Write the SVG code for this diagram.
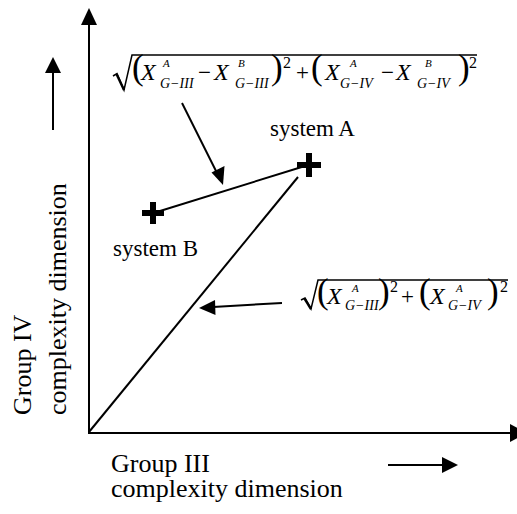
<svg xmlns="http://www.w3.org/2000/svg" width="517" height="514" viewBox="0 0 517 514">
<defs>
<style>
.ln{stroke:#000;stroke-width:2;fill:none}
.cr{stroke:#000;stroke-width:6;fill:none}
.rad{stroke:#000;stroke-width:1.5;fill:none;stroke-linejoin:miter}
.lbl{font-family:"Liberation Serif","Times New Roman",serif;fill:#000}
.m{font-family:"Liberation Serif","Times New Roman",serif;fill:#000;font-size:23px}
.mi{font-family:"Liberation Serif","Times New Roman",serif;fill:#000;font-size:24px;font-style:italic}
.sp{font-family:"Liberation Serif","Times New Roman",serif;fill:#000;font-size:11px;font-style:italic}
.sb{font-family:"Liberation Serif","Times New Roman",serif;fill:#000;font-size:14px;font-style:italic}
.pr{font-family:"Liberation Serif","Times New Roman",serif;fill:#000;font-size:35px}
.ex{font-family:"Liberation Serif","Times New Roman",serif;fill:#000;font-size:16px}
</style>
</defs>
<rect width="517" height="514" fill="#fff"/>

<g id="connectors">
  <line class="ln" x1="89" y1="433" x2="89" y2="24"/>
  <path d="M89,8 L97,25 L81,25 Z" fill="#000"/>
  <line class="ln" x1="88" y1="433" x2="511" y2="433"/>
  <path d="M527,433 L510,424 L510,442 Z" fill="#000"/>
  <line class="ln" x1="53" y1="130" x2="53" y2="72"/>
  <path d="M53,57 L61,73 L45,73 Z" fill="#000"/>
  <line class="ln" x1="388" y1="465" x2="443" y2="465"/>
  <path d="M458,465 L442,457 L442,473 Z" fill="#000"/>
  <line class="ln" x1="160" y1="211" x2="305" y2="166"/>
  <line class="ln" x1="89" y1="432" x2="298" y2="177"/>
  <line class="ln" x1="182" y1="103" x2="217" y2="173"/>
  <path d="M223,185 L211.5,172.5 L224.5,166 Z" fill="#000"/>
  <line class="ln" x1="282" y1="303" x2="213" y2="307"/>
  <path d="M199,308 L215,300 L215.5,315 Z" fill="#000"/>
</g>

<g id="systemA">
  <path class="cr" d="M297,165 H321 M309,153 V177"/>
  <text class="lbl" x="270" y="136" font-size="23">system A</text>
</g>

<g id="systemB">
  <path class="cr" d="M142,213 H164 M153,202 V224"/>
  <text class="lbl" x="113" y="256" font-size="23">system B</text>
</g>

<g id="formulaAB">
  <path class="rad" d="M113,76 L117,73.5 L124,90 L132,55 L477,55"/>
  <path d="M116.5,74 L124,90" stroke="#000" stroke-width="2.4" fill="none"/>
  <text class="pr" x="132" y="79">(</text>
  <text class="mi" x="141" y="80">X</text>
  <text class="sp" x="163" y="67">A</text>
  <text class="sb" x="160" y="88">G−III</text>
  <text class="m" x="198" y="80">−</text>
  <text class="mi" x="214" y="80">X</text>
  <text class="sp" x="238" y="67">B</text>
  <text class="sb" x="235" y="88">G−III</text>
  <text class="pr" x="271" y="79">)</text>
  <text class="ex" x="283" y="68">2</text>
  <text class="m" x="296" y="80">+</text>
  <text class="pr" x="311" y="79">(</text>
  <text class="mi" x="325" y="80">X</text>
  <text class="sp" x="350" y="67">A</text>
  <text class="sb" x="340" y="88">G−IV</text>
  <text class="m" x="381" y="80">−</text>
  <text class="mi" x="396" y="80">X</text>
  <text class="sp" x="425" y="67">B</text>
  <text class="sb" x="417" y="88">G−IV</text>
  <text class="pr" x="458" y="79">)</text>
  <text class="ex" x="469" y="68">2</text>
</g>

<g id="formulaA">
  <path class="rad" d="M301,300 L305,298 L311,309 L318,280 L508,280"/>
  <path d="M304.5,298.5 L311,309" stroke="#000" stroke-width="2.4" fill="none"/>
  <text class="pr" x="317" y="303">(</text>
  <text class="mi" x="327" y="304">X</text>
  <text class="sp" x="352" y="292">A</text>
  <text class="sb" x="345" y="310">G−III</text>
  <text class="pr" x="378" y="303">)</text>
  <text class="ex" x="390" y="292">2</text>
  <text class="m" x="401" y="304">+</text>
  <text class="pr" x="419" y="303">(</text>
  <text class="mi" x="430" y="304">X</text>
  <text class="sp" x="456" y="292">A</text>
  <text class="sb" x="448" y="310">G−IV</text>
  <text class="pr" x="487" y="303">)</text>
  <text class="ex" x="500" y="292">2</text>
</g>

<g id="xlabel">
  <text class="lbl" x="111" y="472" font-size="26">Group III</text>
  <text class="lbl" x="111" y="497" font-size="26">complexity dimension</text>
</g>

<g id="ylabel">
  <text class="lbl" transform="translate(31,415) rotate(-90)" font-size="26">Group IV</text>
  <text class="lbl" transform="translate(66,415) rotate(-90)" font-size="26">complexity dimension</text>
</g>
</svg>
